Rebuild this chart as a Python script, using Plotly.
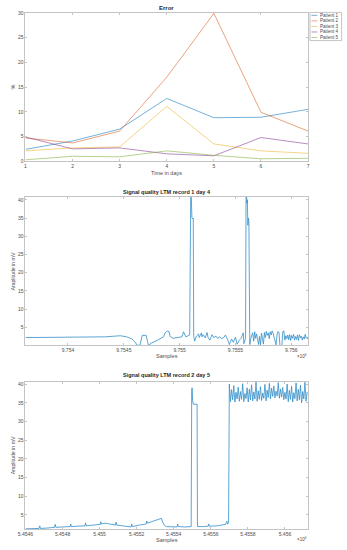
import plotly.graph_objects as go

# ---------------- data ----------------
days = [1, 2, 3, 4, 5, 6, 7]
patient_names = ["Patient 1", "Patient 2", "Patient 3", "Patient 4", "Patient 5"]
patient1 = [2.4, 4.1, 6.5, 12.7, 8.8, 8.9, 10.5]
patient2 = [4.7, 3.7, 6.1, 17.0, 29.9, 9.9, 6.1]
patient3 = [2.1, 2.7, 2.9, 11.1, 3.5, 2.1, 1.6]
patient4 = [4.9, 2.5, 2.7, 1.5, 1.1, 4.8, 3.5]
patient5 = [0.3, 1.0, 0.9, 2.1, 1.2, 0.5, 0.6]
error_ticks_x = [1, 2, 3, 4, 5, 6, 7]
error_ticks_y = [0, 5, 10, 15, 20, 25, 30]

# record 1 day 4 (samples, mV)
rec1_x = [9753620, 9753725, 9753845, 9753970, 9754090, 9754210, 9754335, 9754420,
          9754470, 9754525, 9754575, 9754600, 9754620, 9754645, 9754655, 9754665,
          9754700, 9754710, 9754720, 9754735, 9754740, 9754785, 9754830, 9754855,
          9754870, 9754890, 9754905, 9754915, 9754940, 9754985, 9755020, 9755035,
          9755045, 9755055, 9755070, 9755090, 9755100, 9755105, 9755110, 9755118,
          9755122, 9755126, 9755135, 9755150, 9755170, 9755175, 9755195, 9755200,
          9755210, 9755230, 9755245, 9755255, 9755270, 9755290, 9755305, 9755325,
          9755340, 9755360, 9755375, 9755395, 9755410, 9755430, 9755445, 9755465,
          9755480, 9755500, 9755515, 9755535, 9755550, 9755570, 9755575, 9755590,
          9755595, 9755602, 9755606, 9755611, 9755615, 9755620, 9755624, 9755628,
          9755637]
rec1_y = [2.2, 2.2, 2.3, 2.2, 2.3, 2.3, 2.4, 2.6,
          2.7, 2.4, 1.8, 1.0, 0.1, 0.1, 2.0, 2.8,
          2.8, 1.0, 0.1, 0.2, 0.6, 1.2, 2.0, 2.4,
          3.5, 4.0, 3.8, 2.5, 2.0, 2.2, 2.4, 3.8,
          3.0, 2.4, 2.6, 2.9, 45.0, 37.0, 35.0, 34.8,
          35.0, 2.5, 1.2, 2.6, 3.2, 2.2, 3.5, 2.4,
          3.0, 2.1, 3.6, 2.2, 1.5, 3.0, 2.2, 2.6,
          2.0, 2.4, 1.9, 2.2, 2.9, 1.6, 0.3, 1.8,
          0.9, 2.3, 0.4, 1.5, 2.0, 3.5, 0.5, 2.0,
          45.0, 39.0, 40.0, 33.0, 35.0, 34.0, 1.0, 0.3,
          2.0]
rec1_tail_x = [9755646, 9755654, 9755663, 9755672, 9755680, 9755689, 9755698, 9755707,
               9755715, 9755724, 9755733, 9755741, 9755750, 9755759, 9755767, 9755776,
               9755785, 9755794, 9755802, 9755811, 9755820, 9755828, 9755837, 9755846,
               9755855, 9755863, 9755872, 9755881, 9755889, 9755898, 9755907, 9755915,
               9755924, 9755933, 9755942, 9755950, 9755959, 9755968, 9755976, 9755985,
               9755994, 9756002, 9756011, 9756020, 9756029, 9756037, 9756046, 9756055,
               9756063, 9756072, 9756081, 9756089, 9756098, 9756107, 9756116, 9756124,
               9756133, 9756142, 9756150]
rec1_tail_y = [2.8, 3.5, 1.2, 3.8, 2.0, 3.2, 1.6, 0.3,
               2.5, 0.2, 3.4, 1.9, 0.4, 3.6, 2.2, 3.9,
               2.8, 3.5, 1.9, 3.8, 2.9, 4.0, 3.4, 2.2,
               1.3, 0.2, 3.0, 3.9, 3.6, 0.0, 0.0, 0.0,
               3.9, 4.0, 1.5, 2.7, 1.9, 2.9, 1.6, 3.0,
               1.4, 2.8, 2.0, 3.1, 1.5, 2.5, 1.7, 2.9,
               1.4, 3.0, 2.1, 2.6, 1.5, 2.4, 1.8, 3.1,
               2.0, 2.3, 1.7]
rec1_ticks = [9754000, 9754500, 9755000, 9755500, 9756000]

# record 2 day 5 (samples, mV)
rec2_x = [5454600, 5454637, 5454673, 5454677, 5454681, 5454715, 5454757, 5454760,
          5454764, 5454799, 5454841, 5454844, 5454848, 5454883, 5454921, 5454924,
          5454928, 5454967, 5455004, 5455006, 5455011, 5455030, 5455056, 5455086,
          5455089, 5455093, 5455124, 5455166, 5455170, 5455173, 5455177, 5455214,
          5455252, 5455254, 5455259, 5455292, 5455324, 5455334, 5455339, 5455350,
          5455360, 5455397, 5455418, 5455421, 5455425, 5455460, 5455494, 5455497,
          5455499, 5455502, 5455506, 5455526, 5455528, 5455554, 5455581, 5455586,
          5455588, 5455593, 5455633, 5455670, 5455680, 5455686, 5455691, 5455696]
rec2_y = [1.3, 1.3, 1.4, 2.1, 1.4, 1.5, 1.7, 2.5,
          1.7, 1.8, 1.9, 2.6, 1.9, 2.0, 2.1, 2.9,
          2.1, 2.3, 2.5, 3.2, 2.6, 2.8, 2.5, 2.3,
          3.1, 2.3, 2.1, 1.8, 1.8, 2.6, 1.9, 2.3,
          2.6, 3.4, 2.8, 3.4, 3.9, 4.1, 3.2, 2.2,
          1.9, 1.8, 1.8, 2.6, 1.9, 1.8, 1.9, 38.0,
          39.0, 35.5, 34.6, 34.6, 1.9, 1.9, 1.9, 2.0,
          2.6, 2.0, 2.1, 2.3, 2.5, 3.3, 2.6, 2.8]
rec2_tail_x = list(range(5455700, 5456126, 6))
rec2_tail_y = [40.0, 35.3, 38.5, 35.8, 39.6, 35.2, 37.8, 36.0, 39.2, 35.4,
               38.0, 35.9, 40.1, 35.3, 37.5, 36.1, 39.0, 35.2, 38.6, 35.8,
               39.8, 35.5, 37.9, 36.0, 40.6, 35.4, 38.2, 35.9, 39.3, 35.6,
               37.6, 36.2, 39.9, 35.5, 38.4, 36.4, 40.2, 36.0, 38.9, 36.7,
               39.5, 36.3, 38.1, 36.8, 40.4, 36.2, 38.7, 36.5, 39.1, 35.8,
               37.8, 36.0, 40.0, 35.3, 38.3, 35.9, 39.4, 35.2, 37.7, 36.1,
               40.3, 35.5, 38.6, 35.8, 39.7, 35.0, 38.0, 36.0, 40.5, 35.4,
               37.9]
rec2_ticks = [5454600, 5454800, 5455000, 5455200, 5455400, 5455600, 5455800, 5456000]
amp_ticks = [5, 10, 15, 20, 25, 30, 35, 40]

# ---------------- styling ----------------
W, H = 347, 550
FONT = "Liberation Sans, Arial, Helvetica, sans-serif"
colors = ["#0072BD", "#D95319", "#EDB120", "#7E2F8E", "#77AC30"]
sig_color = "#0072BD"
AX = "#c4c4c4"
TXT = "#4d4d4d"


def px(x):
    return x / W


def py(y):
    return 1 - y / H


fig = go.Figure()
patients = [patient1, patient2, patient3, patient4, patient5]
for name, vals, c in zip(patient_names, patients, colors):
    fig.add_trace(go.Scatter(x=days, y=vals, mode="lines", name=name,
                             line=dict(color=c, width=0.9), opacity=0.6,
                             xaxis="x", yaxis="y", showlegend=False))

fig.add_trace(go.Scatter(x=rec1_x + rec1_tail_x, y=rec1_y + rec1_tail_y, mode="lines",
                         line=dict(color=sig_color, width=0.8), opacity=0.8,
                         xaxis="x2", yaxis="y2", showlegend=False))
n2 = min(len(rec2_tail_x), len(rec2_tail_y))
fig.add_trace(go.Scatter(x=rec2_x + rec2_tail_x[:n2], y=rec2_y + rec2_tail_y[:n2], mode="lines",
                         line=dict(color=sig_color, width=0.8), opacity=0.8,
                         xaxis="x3", yaxis="y3", showlegend=False))

axc = dict(showline=True, linecolor=AX, linewidth=1, mirror="ticks", ticks="inside",
           ticklen=2, tickcolor=AX, tickwidth=1, showgrid=False, zeroline=False,
           tickfont=dict(family=FONT, size=5, color=TXT))

xd = [px(18), px(309)]
fig.update_layout(
    width=W, height=H, margin=dict(l=0, r=0, t=0, b=0),
    paper_bgcolor="white", plot_bgcolor="white", showlegend=False,
    xaxis=dict(axc, domain=xd, range=[1, 7], tickvals=error_ticks_x, anchor="y"),
    yaxis=dict(axc, domain=[py(160), py(10)], range=[0, 30], tickvals=error_ticks_y, anchor="x"),
    xaxis2=dict(axc, domain=xd, range=[9753620, 9756150], tickvals=rec1_ticks,
                ticktext=[f"{v / 1e6:g}" for v in rec1_ticks], anchor="y2"),
    yaxis2=dict(axc, domain=[py(346), py(196)], range=[0.1, 40.8], tickvals=amp_ticks, anchor="x2"),
    xaxis3=dict(axc, domain=xd, range=[5454600, 5456125], tickvals=rec2_ticks,
                ticktext=[f"{v / 1e6:g}" for v in rec2_ticks], anchor="y3"),
    yaxis3=dict(axc, domain=[py(532), py(383)], range=[1.2, 40.6], tickvals=amp_ticks, anchor="x3"),
)

ann = []


def text(x, y, s, size=5.5, bold=False, angle=0, xanchor="center"):
    ann.append(dict(x=px(x), y=py(y), xref="paper", yref="paper", text=f"<b>{s}</b>" if bold else s,
                    showarrow=False, textangle=angle, xanchor=xanchor, yanchor="middle",
                    font=dict(family=FONT, size=size, color="#262626" if bold else TXT)))


cx = (18 + 309) / 2
text(cx, 5.5, "Error", 6, True)
text(cx, 172, "Time in days", 5.5)
text(5.5, 85, "%", 5.5, angle=-90)
text(cx, 191.5, "Signal quality LTM record 1 day 4", 5.5, True)
text(cx, 357, "Samples", 5.5)
text(5.5, 271, "Amplitude in mV", 5.2, angle=-90)
text(303, 357, "×10<sup>6</sup>", 4.5)
text(cx, 376.5, "Signal quality LTM record 2 day 5", 5.5, True)
text(cx, 543, "Samples", 5.5)
text(5.5, 457, "Amplitude in mV", 5.2, angle=-90)
text(303, 542, "×10<sup>6</sup>", 4.5)

# legend (built from the series names / colours)
shapes = [dict(type="rect", xref="paper", yref="paper", x0=px(311), x1=px(343.5), y0=py(38), y1=py(9.5),
               line=dict(color=AX, width=1), fillcolor="white")]
for i, (name, c) in enumerate(zip(patient_names, colors)):
    yy = 12.5 + i * 5.6
    shapes.append(dict(type="line", xref="paper", yref="paper", x0=px(312.5), x1=px(318.5),
                       y0=py(yy), y1=py(yy), line=dict(color=c, width=0.9), opacity=0.6))
    text(319.5, yy, name, 4.6, xanchor="left")

fig.update_layout(annotations=ann, shapes=shapes)
fig.write_html("out.html", config={"displayModeBar": False},
               post_script="document.body.style.margin='0';document.body.style.padding='0';")
